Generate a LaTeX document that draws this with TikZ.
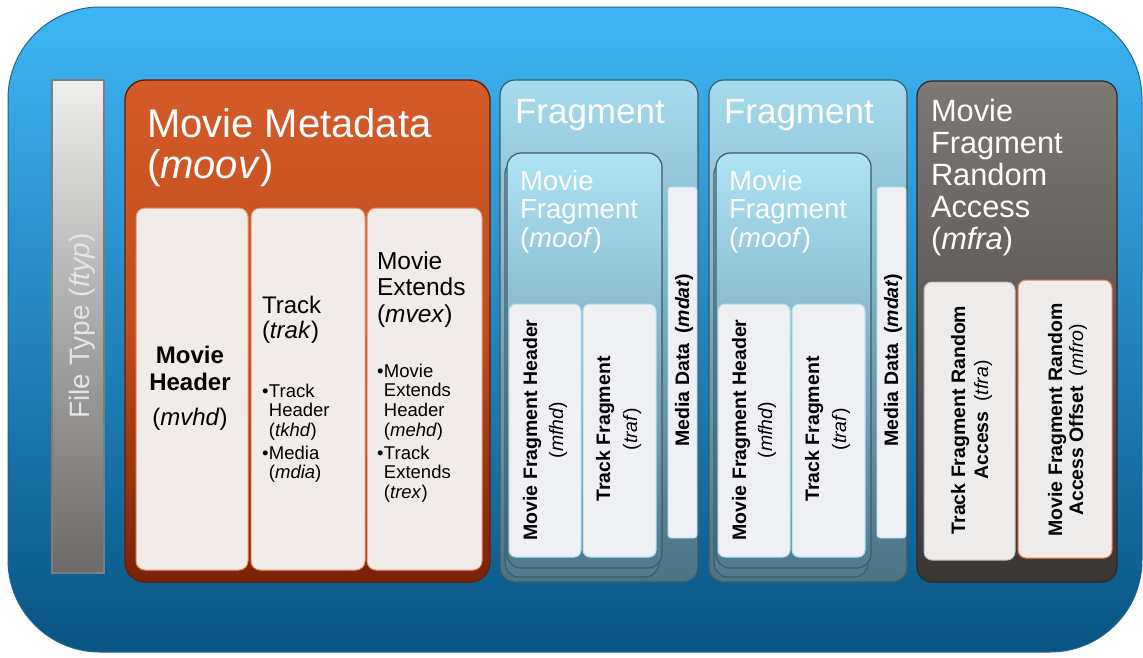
\documentclass[tikz,border=0pt]{standalone}
\usepackage{fontspec}
\setmainfont{Liberation Sans}
\definecolor{outerTop}{HTML}{3EB6F5}
\definecolor{outerBot}{HTML}{085484}
\definecolor{outerEdge}{HTML}{1E6690}
\definecolor{ftypTop}{HTML}{EEEEEC}
\definecolor{ftypMid}{HTML}{A9A8A6}
\definecolor{ftypBot}{HTML}{6C6A68}
\definecolor{ftypEdge}{HTML}{7E7C7A}
\definecolor{ftypText}{HTML}{E4E4E4}
\definecolor{moovTop}{HTML}{D55B29}
\definecolor{moovMid}{HTML}{C04C1C}
\definecolor{moovBot}{HTML}{7A2208}
\definecolor{moovEdge}{HTML}{6A1C05}
\definecolor{moovCell}{HTML}{F1ECE9}
\definecolor{moovCellEdge}{HTML}{E8926A}
\definecolor{fragTop}{HTML}{A6DBEF}
\definecolor{fragBot}{HTML}{4A7384}
\definecolor{fragEdge}{HTML}{3E5A66}
\definecolor{moofTop}{HTML}{AEE4F6}
\definecolor{moofBot}{HTML}{4E7A8C}
\definecolor{fragCell}{HTML}{EEF0F3}
\definecolor{fragCellEdge}{HTML}{B0DDF0}
\definecolor{mfraTop}{HTML}{7E7975}
\definecolor{mfraBot}{HTML}{3A3634}
\definecolor{mfraEdge}{HTML}{2C2927}
\definecolor{mfraCell}{HTML}{EEECEB}
\definecolor{mfraCellEdge}{HTML}{BDB8B4}
\definecolor{mfroEdge}{HTML}{F07A40}
\newcommand\fs[2]{\fontsize{#1}{#2}\selectfont}
\newcommand\lns[2]{\begin{tabular}[t]{@{}#1@{}}#2\end{tabular}}
\begin{document}
\begin{tikzpicture}[x=1pt,y=-1pt,
  txt/.style={inner sep=0pt,outer sep=0pt},
  white/.style={txt,text=white},
  dark/.style={txt,text=black},
  moovcell/.style={fill=moovCell,draw=moovCellEdge,line width=1,rounded corners=9},
  fragbox/.style={top color=fragTop,bottom color=fragBot,draw=fragEdge,line width=1.2,rounded corners=15},
  moofbox/.style={top color=moofTop,bottom color=moofBot,draw=fragEdge,line width=1.2,rounded corners=14},
  mdatbar/.style={fill=fragCell,draw=fragCellEdge,line width=0.8,rounded corners=3},
  fragcell/.style={fill=fragCell,draw=fragCellEdge,line width=1,rounded corners=7},
  mfracell/.style={fill=mfraCell,draw=mfraCellEdge,line width=1,rounded corners=8},
]
\useasboundingbox (0,0) rectangle (1143,657);
% outer container
\path[top color=outerTop,bottom color=outerBot,draw=outerEdge,line width=1,rounded corners=92] (8,7) rectangle (1142,652);
% file type bar
\path[top color=ftypTop,bottom color=ftypBot,middle color=ftypMid,draw=ftypEdge,line width=1.2] (52,80) rectangle (104,573);
\node[txt,text=ftypText,rotate=90,anchor=base,font=\fs{28}{30}] (ftyp) at (89,326) {File Type (\textit{ftyp})};
% movie metadata
\path[top color=moovTop,bottom color=moovBot,middle color=moovMid,draw=moovEdge,line width=1.4,rounded corners=20] (125,80) rectangle (490,582);
\foreach \a/\b in {136/248,251/365,367/482} \path[moovcell] (\a,208) rectangle (\b,570);
\node[white,anchor=base west,font=\fs{40}{41}] (moovt1) at (147,137) {Movie Metadata};
\node[white,anchor=base west,font=\fs{40}{41}] (moovt2) at (147,178) {(\textit{moov})};
\node[dark,anchor=base,font=\fs{24}{27}] (mvhd) at (190,363) {\lns{c}{\textbf{Movie}\\\textbf{Header}\\[8pt](\textit{mvhd})}};
\node[dark,anchor=base west,font=\fs{24}{25.5}] (trak) at (262,313) {\lns{l}{Track\\(\textit{trak})}};
\node[dark,anchor=base west,font=\fs{18.5}{19.5}] (trakl) at (262,397) {\begin{tabular}[t]{@{}l@{\hspace{0.5pt}}l@{}}•&Track\\&Header\\&(\textit{tkhd})\\[3.5pt]•&Media\\&(\textit{mdia})\end{tabular}};
\node[dark,anchor=base west,font=\fs{24.5}{26.5}] (mvex) at (377,269) {\lns{l}{Movie\\Extends\\(\textit{mvex})}};
\node[dark,anchor=base west,font=\fs{18.5}{19.7}] (mvexl) at (377,377) {\begin{tabular}[t]{@{}l@{\hspace{0.5pt}}l@{}}•&Movie\\&Extends\\&Header\\&(\textit{mehd})\\[3.3pt]•&Track\\&Extends\\&(\textit{trex})\end{tabular}};
% fragments
\foreach \o in {0,209}{
\begin{scope}[xshift=\o]
\path[fragbox] (500,80) rectangle (698,582);
\path[moofbox] (505,160) rectangle (659,577);
\path[moofbox] (507,153) rectangle (662,568);
\path[mdatbar] (668,187) rectangle (697,538);
\path[fragcell] (509,304) rectangle (581,557);
\path[fragcell] (583,304) rectangle (656,557);
\node[white,anchor=base west,font=\fs{35}{36}] (fragt\o) at (515,123) {Fragment};
\node[white,anchor=base west,font=\fs{27.6}{28.5}] (moof\o) at (520,190) {\lns{l}{Movie\\Fragment\\(\textit{moof})}};
\node[dark,rotate=90,anchor=base,font=\fs{19.5}{26}] (mfhd\o) at (537,430) {\lns{c}{\textbf{Movie Fragment Header}\\(\textit{mfhd})}};
\node[dark,rotate=90,anchor=base,font=\fs{19.5}{27}] (traf\o) at (610,429) {\lns{c}{\textbf{Track Fragment}\\(\textit{traf})}};
\node[dark,rotate=90,anchor=base,font=\fs{19.5}{21}] (mdat\o) at (689,360) {\textbf{Media Data\enspace(\textit{mdat})}};
\end{scope}}
% movie fragment random access
\path[top color=mfraTop,bottom color=mfraBot,draw=mfraEdge,line width=1.2,rounded corners=15] (917,81) rectangle (1117,582);
\path[mfracell] (924,282) rectangle (1015,560);
\path[mfracell,draw=mfroEdge] (1018,280) rectangle (1112,558);
\node[white,anchor=base west,font=\fs{30.8}{32}] (mfra) at (931,121) {\lns{l}{Movie\\Fragment\\Random\\Access\\(\textit{mfra})}};
\node[dark,rotate=90,anchor=base,font=\fs{19.5}{23}] (tfra) at (965,420) {\lns{c}{\textbf{Track Fragment Random}\\\textbf{Access}\enspace(\textit{tfra})}};
\node[dark,rotate=90,anchor=base,font=\fs{19.5}{21}] (mfro) at (1062,420) {\lns{c}{\textbf{Movie Fragment Random}\\\textbf{Access Offset}\enspace(\textit{mfro})}};
\end{tikzpicture}
\end{document}
